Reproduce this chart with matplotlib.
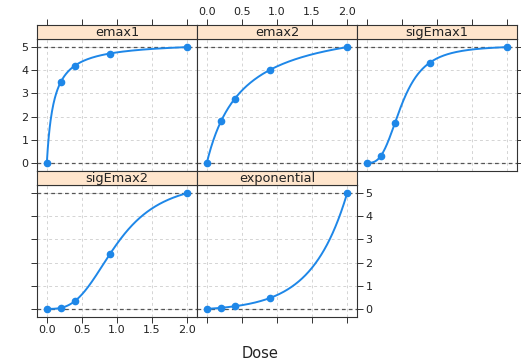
import numpy as np
import matplotlib.pyplot as plt

# dose levels and model responses
doses = [0.0, 0.2, 0.4, 0.9, 2.0]
panel_names = ["emax1", "emax2", "sigEmax1", "sigEmax2", "exponential"]
resp_emax1 = [0.0, 3.5, 4.2, 4.72, 5.0]
resp_emax2 = [0.0, 1.79, 2.78, 4.02, 5.0]
resp_sigemax1 = [0.0, 0.31, 1.72, 4.33, 5.0]
resp_sigemax2 = [0.0, 0.04, 0.34, 2.37, 5.0]
resp_exponential = [0.0, 0.05, 0.11, 0.47, 5.0]

# model parameters (candidate dose-response models, scaled to max effect 5 at dose 2)
emax_ed50 = {"emax1": 0.1, "emax2": 0.5}
sigemax_par = {"sigEmax1": (0.5, 3.0), "sigEmax2": (1.0, 3.0)}
exp_delta = 0.5
max_effect = 5.0
max_dose = 2.0


def model_curve(name, d):
    if name in emax_ed50:
        f = lambda x: x / (emax_ed50[name] + x)
    elif name in sigemax_par:
        ed50, h = sigemax_par[name]
        f = lambda x: x ** h / (ed50 ** h + x ** h)
    else:
        f = lambda x: np.exp(x / exp_delta) - 1
    return max_effect * f(d) / f(max_dose)


responses = [resp_emax1, resp_emax2, resp_sigemax1, resp_sigemax2, resp_exponential]

W, H = 521, 362
fig = plt.figure(figsize=(W / 100, H / 100), dpi=100)

col_x = [37, 197, 357]
row_y = [(25, 39, 171), (171, 185, 317)]
pw = 160
line_col = "#1e87e8"
strip_col = "#ffe5cc"
frame_col = "#333333"
xticks = [0.0, 0.5, 1.0, 1.5, 2.0]
yticks = [0, 1, 2, 3, 4, 5]

grid = np.linspace(0, max_dose, 300)

for i, name in enumerate(panel_names):
    r, c = divmod(i, 3)
    s_top, b_top, b_bot = row_y[r]
    x0 = col_x[c]
    ax = fig.add_axes([x0 / W, 1 - b_bot / H, pw / W, (b_bot - b_top) / H])
    sax = fig.add_axes([x0 / W, 1 - b_top / H, pw / W, (b_top - s_top) / H])

    # strip
    sax.set_facecolor(strip_col)
    sax.set_xticks([])
    sax.set_yticks([])
    for sp in sax.spines.values():
        sp.set_color(frame_col)
        sp.set_linewidth(0.8)
    sax.text(0.5, 0.45, name, ha="center", va="center", fontsize=9.3,
             color="#222222", transform=sax.transAxes)

    # body
    ax.set_xlim(-0.14, 2.14)
    ax.set_ylim(-0.35, 5.35)
    for v in xticks:
        ax.axvline(v, color="#d4d4d4", lw=0.7, ls=(0, (3, 3)), zorder=0)
    for v in yticks:
        ax.axhline(v, color="#d4d4d4", lw=0.7, ls=(0, (3, 3)), zorder=0)
    ax.axhline(0, color="#555555", lw=0.9, ls=(0, (3, 2.5)), zorder=1)
    ax.axhline(max_effect, color="#555555", lw=0.9, ls=(0, (3, 2.5)), zorder=1)
    ax.plot(grid, model_curve(name, grid), color=line_col, lw=1.4, zorder=2)
    ax.plot(doses, responses[i], "o", color=line_col, ms=4.5, zorder=3)
    for sp in ax.spines.values():
        sp.set_color(frame_col)
        sp.set_linewidth(0.8)

    ax.set_xticks(xticks)
    ax.set_yticks(yticks)
    ax.tick_params(colors="#333333", labelcolor="#222222", labelsize=8,
                   length=4, width=0.7, direction="out", pad=2)
    ax.tick_params(top=False, bottom=False, left=False, right=False,
                   labeltop=False, labelbottom=False, labelleft=False, labelright=False)
    ax.set_xticklabels([f"{v:.1f}" for v in xticks])
    ax.set_yticklabels([str(v) for v in yticks])

    if r == 0:
        # top ticks drawn on the strip axes edge
        sax.set_xlim(-0.14, 2.14)
        sax.set_xticks(xticks)
        sax.set_xticklabels([f"{v:.1f}" for v in xticks])
        sax.tick_params(top=True, bottom=False, labelbottom=False,
                        labeltop=(c == 1), colors="#333333", labelcolor="#222222",
                        labelsize=8, length=4, width=0.7, pad=2)
    if name == "emax1":
        ax.tick_params(left=True, labelleft=True)
    if name == "sigEmax1":
        ax.tick_params(right=True)
    if name == "sigEmax2":
        ax.tick_params(left=True, bottom=True, labelbottom=True)
    if name == "exponential":
        ax.tick_params(right=True, labelright=True, bottom=True)

fig.text(260 / W, 1 - 354 / H, "Dose", ha="center", va="center", fontsize=10.5, color="#222222")

fig.savefig("out.png", dpi=100)
